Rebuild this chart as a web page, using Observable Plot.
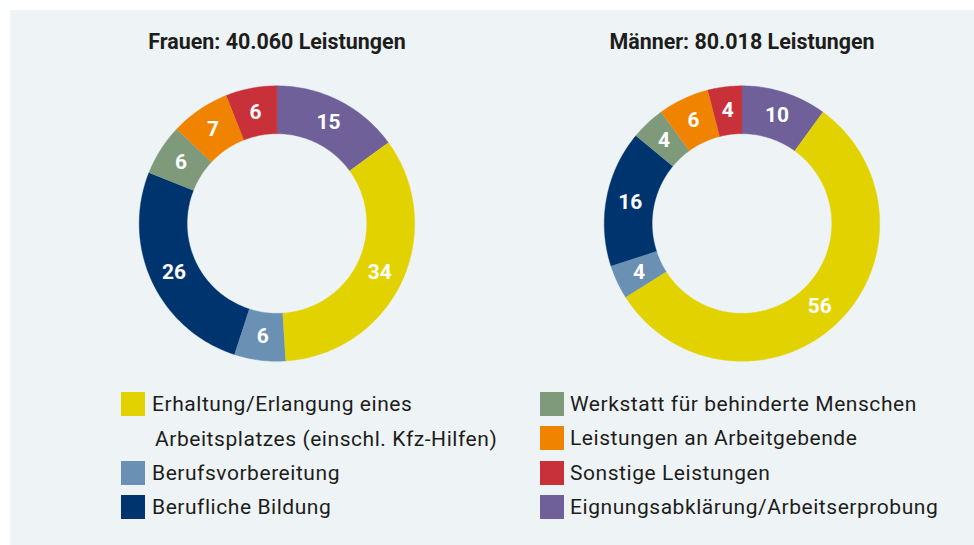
<!DOCTYPE html>
<html>
<head>
<meta charset="utf-8">
<script src="https://cdn.jsdelivr.net/npm/d3@7"></script>
<script src="https://cdn.jsdelivr.net/npm/@observablehq/plot@0.6"></script>
<style>
  html, body { margin: 0; padding: 0; background: #ffffff; overflow: hidden; }
  #wrap { position: relative; width: 974px; height: 545px; }
  #panel { position: absolute; left: 10px; top: 10px; width: 964px; height: 535px; background: #eef3f6; }
  #chart { position: absolute; left: 0; top: 0; }
  .legend { position: absolute; top: 0; font-family: Roboto, "Open Sans", sans-serif; font-size: 21px; color: #1d1d1b; letter-spacing: 0.55px; }
  .item { position: absolute; white-space: nowrap; }
  .sw { position: absolute; width: 24px; height: 24px; }
  .lbl { position: absolute; line-height: 24px; white-space: nowrap; }
</style>
</head>
<body>
<div id="wrap">
  <div id="panel"></div>
  <div id="chart"></div>
  <div id="legend"></div>
</div>
<script>
// ---- data ----
const groups = ["Frauen", "Männer"];
const titles = ["Frauen: 40.060 Leistungen", "Männer: 80.018 Leistungen"];
const categories = [
  "Eignungsabklärung/Arbeitserprobung",
  "Erhaltung/Erlangung eines Arbeitsplatzes (einschl. Kfz-Hilfen)",
  "Berufsvorbereitung",
  "Berufliche Bildung",
  "Werkstatt für behinderte Menschen",
  "Leistungen an Arbeitgebende",
  "Sonstige Leistungen"
];
const frauenValues = [15, 34, 6, 26, 6, 7, 6];
const maennerValues = [10, 56, 4, 16, 4, 6, 4];
const colors = ["#6f6099", "#e2d200", "#6a90b4", "#00346f", "#7f9a7b", "#f08300", "#c9313a"];

// legend order (left column, right column)
const legendLeft = [
  ["Erhaltung/Erlangung eines", "Arbeitsplatzes (einschl. Kfz-Hilfen)"],
  ["Berufsvorbereitung"],
  ["Berufliche Bildung"]
];
const legendLeftCats = [1, 2, 3];
const legendRight = [["Werkstatt für behinderte Menschen"], ["Leistungen an Arbeitgebende"], ["Sonstige Leistungen"], ["Eignungsabklärung/Arbeitserprobung"]];
const legendRightCats = [4, 5, 6, 0];

// ---- build slices ----
const R_OUT = 1, R_IN = 90 / 138, R_LAB = 114 / 138;
const valuesByGroup = [frauenValues, maennerValues];
const polys = [];
const labels = [];
valuesByGroup.forEach((vals, gi) => {
  const total = d3.sum(vals);
  let cum = 0;
  vals.forEach((v, ci) => {
    const a0 = cum / total * 2 * Math.PI;
    cum += v;
    const a1 = cum / total * 2 * Math.PI;
    const n = Math.max(2, Math.ceil((a1 - a0) / (Math.PI / 180)));
    const key = groups[gi] + "-" + ci;
    const pts = [];
    for (let i = 0; i <= n; i++) {
      const a = a0 + (a1 - a0) * i / n;
      pts.push({x: R_OUT * Math.sin(a), y: R_OUT * Math.cos(a)});
    }
    for (let i = n; i >= 0; i--) {
      const a = a0 + (a1 - a0) * i / n;
      pts.push({x: R_IN * Math.sin(a), y: R_IN * Math.cos(a)});
    }
    pts.forEach((p) => polys.push({...p, key, group: groups[gi], cat: categories[ci]}));
    const am = (a0 + a1) / 2;
    labels.push({x: R_LAB * Math.sin(am), y: R_LAB * Math.cos(am), group: groups[gi], text: String(v)});
  });
});
const titleData = groups.map((g, i) => ({group: g, text: titles[i]}));

// ---- layout ----
const PX = 138;             // pixels per unit radius
const facetW = 466;
const mTop = 60, H = 390, mBot = 3;
const kY = (H - mTop - mBot) / 2 / PX;
const kX = facetW / 2 / PX;

const chart = Plot.plot({
  width: 976,
  height: H,
  marginLeft: 44,
  marginRight: 0,
  marginTop: mTop,
  marginBottom: mBot,
  style: {background: "transparent", overflow: "visible"},
  fx: {domain: groups, padding: 0, axis: null},
  x: {domain: [-kX, kX], axis: null},
  y: {domain: [-kY, kY], axis: null},
  color: {domain: categories, range: colors},
  marks: [
    Plot.line(polys, {x: "x", y: "y", z: "key", fx: "group", fill: "cat", stroke: "cat", strokeWidth: 0.4, curve: "linear"}),
    Plot.text(labels, {x: "x", y: "y", fx: "group", text: "text", fill: "white", fontSize: 21, fontWeight: "bold", fontFamily: "Roboto, sans-serif"}),
    Plot.text(titleData, {fx: "group", text: "text", frameAnchor: "top", dy: -18, fill: "#1d1d1b", fontSize: 21.5, fontWeight: "bold", fontFamily: "Roboto, sans-serif", lineAnchor: "middle"})
  ]
});
document.getElementById("chart").appendChild(chart);

// ---- legend ----
const leg = document.getElementById("legend");
function addColumn(items, cats, swX, txtX, rowYs) {
  items.forEach((lines, i) => {
    const y = rowYs[i];
    const sw = document.createElement("div");
    sw.className = "sw";
    sw.style.left = swX + "px";
    sw.style.top = (y - 12) + "px";
    sw.style.background = colors[cats[i]];
    leg.appendChild(sw);
    lines.forEach((t, li) => {
      const d = document.createElement("div");
      d.className = "legend lbl";
      d.style.left = (txtX + (li > 0 ? 3 : 0)) + "px";
      d.style.top = (y - 12 + li * 34.5) + "px";
      d.textContent = t;
      leg.appendChild(d);
    });
  });
}
addColumn(legendLeft, legendLeftCats, 121, 152, [404, 473, 507]);
addColumn(legendRight, legendRightCats, 540, 570, [404, 438, 473, 507]);
</script>
</body>
</html>
